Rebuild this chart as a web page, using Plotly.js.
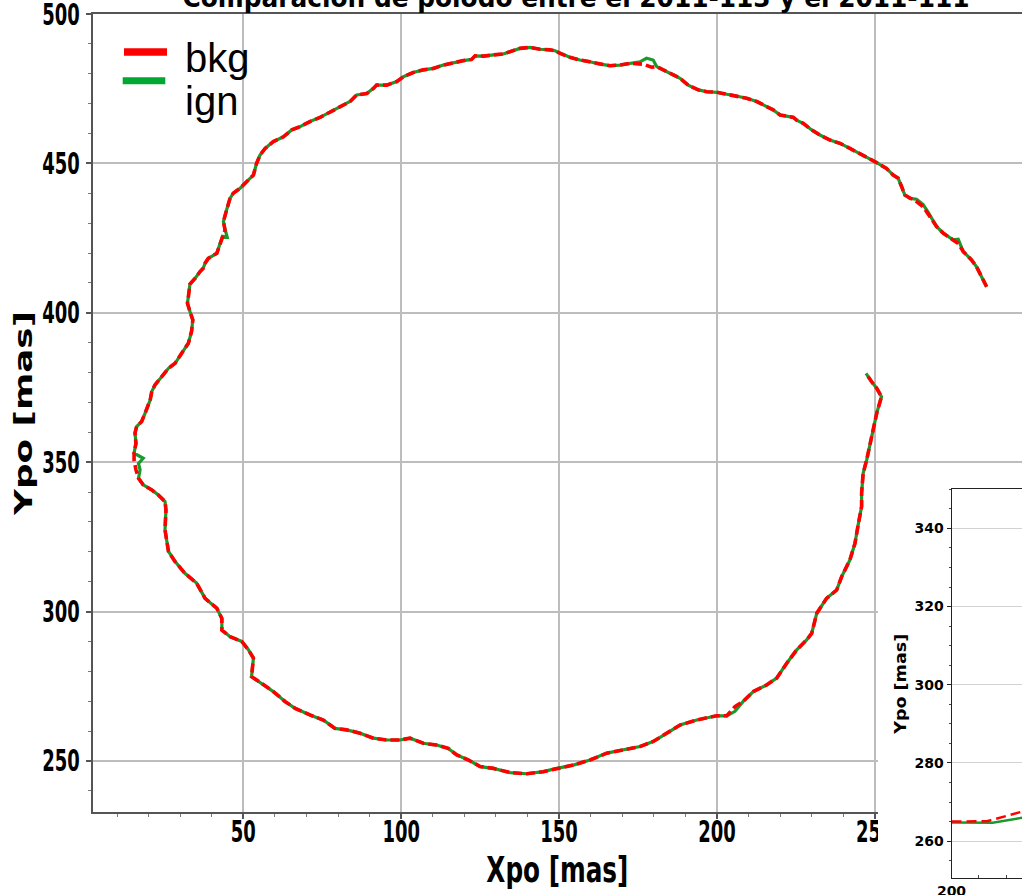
<!DOCTYPE html>
<html>
<head>
<meta charset="utf-8">
<script src="https://cdn.plot.ly/plotly-3.0.1.min.js"></script>
<style>html,body{margin:0;padding:0;background:#fff;}#chart{width:1022px;height:895px;}</style>
</head>
<body>
<div id="chart"></div>
<script>
// ---- data (polar motion track, mas) ----
const bkgX = [285.4,282.2,280.6,278.0,276.4,274.8,271.7,269.6,266.9,265.3,263.2,261.1,259.5,258.5,257.4,255.8,253.7,250.0,245.3,242.1,239.0,235.8,232.6,230.0,227.3,225.2,224.2,222.1,220.0,217.8,214.7,212.6,209.4,207.3,204.6,201.5,199.9,196.7,194.1,190.9,188.3,186.2,183.0,180.9,179.3,176.7,172.4,169.3,166.1,163.0,159.8,156.6,153.4,150.3,148.7,147.1,144.0,140.8,137.6,134.5,132.3,129.2,126.0,123.4,122.3,119.7,116.5,113.3,110.2,107.0,103.8,100.7,98.6,95.4,92.2,91.2,89.1,85.9,83.8,81.7,77.5,74.3,71.1,68.0,65.3,62.7,59.5,56.9,55.3,54.2,53.2,51.1,49.0,46.8,45.8,44.7,43.7,44.2,43.2,42.6,41.6,38.9,37.9,37.3,36.3,34.7,33.1,32.6,32.3,33.1,34.0,33.6,32.6,31.5,30.0,28.4,26.3,24.1,22.0,21.0,20.5,18.9,17.8,16.2,15.7,16.0,15.4,15.4,16.0,16.8,18.3,21.0,23.1,25.2,25.5,25.2,26.3,28.4,31.5,35.2,37.9,41.6,43.2,43.2,45.8,49.5,51.6,53.2,52.6,55.8,59.5,63.2,66.4,71.1,75.3,79.0,82.7,86.9,91.2,95.4,99.6,102.8,107.0,111.2,114.9,117.6,121.3,125.0,129.2,134.5,139.7,145.0,149.2,154.5,159.8,165.1,170.3,175.6,179.8,184.1,188.3,193.6,199.9,203.1,205.7,208.3,211.5,215.7,218.9,222.1,225.2,228.4,230.0,231.6,234.7,237.9,239.5,242.1,243.7,244.8,245.8,245.8,246.3,247.4,248.5,249.5,250.6,252.1,250.6,249.0,247.2];
const bkgY = [408.7,415.4,417.7,420.5,423.2,424.4,426.6,428.8,432.7,435.5,437.2,438.3,439.4,442.2,445.0,446.1,448.3,450.6,453.4,455.0,456.7,457.8,459.5,461.2,463.4,464.5,465.4,465.9,466.2,467.9,469.5,470.7,471.8,472.3,472.9,473.4,473.8,474.0,474.6,476.2,478.5,479.6,481.3,482.4,482.2,483.2,483.5,482.9,482.7,483.2,484.0,484.6,485.5,486.8,487.7,488.0,488.2,488.8,488.5,487.4,486.6,486.3,485.9,486.0,484.8,484.4,483.7,482.9,481.8,481.3,480.4,479.0,477.4,476.2,476.2,475.1,473.4,472.9,470.7,469.5,467.3,465.4,464.0,462.3,461.2,458.9,457.3,455.0,452.8,450.0,446.1,443.9,441.7,440.0,438.3,434.4,430.5,427.7,424.9,422.7,419.9,418.2,416.6,414.9,413.8,411.5,409.6,405.4,403.2,400.4,397.6,393.7,389.8,388.1,385.9,383.1,381.4,378.6,375.8,373.6,370.8,366.4,363.6,361.9,359.7,356.3,353.0,350.7,347.4,344.6,342.4,340.7,339.0,336.8,334.0,327.3,320.1,316.7,312.8,309.5,304.4,301.1,297.7,293.8,291.6,290.0,287.2,284.4,278.2,276.0,273.2,269.9,267.6,265.4,263.7,260.9,260.4,259.3,257.6,257.0,257.0,257.6,255.9,255.3,254.2,252.0,250.3,248.1,247.5,246.1,245.7,246.4,247.5,248.6,250.3,252.6,253.7,254.8,256.5,259.3,262.0,263.7,265.1,265.1,268.2,269.9,273.2,275.4,277.7,282.7,287.1,290.5,292.7,299.4,304.4,307.2,311.7,317.3,322.8,329.5,335.1,339.6,346.3,350.7,356.3,361.9,366.4,371.9,374.7,376.9,379.7];
const ignX = [285.4,282.2,280.6,278.0,276.4,274.8,271.7,269.6,266.9,265.3,263.2,261.1,259.5,258.5,257.4,255.8,253.7,250.0,245.3,242.1,239.0,235.8,232.6,230.0,227.3,225.2,224.2,222.1,220.0,217.8,214.7,212.6,209.4,207.3,204.6,201.5,199.9,196.7,194.1,190.9,188.3,186.2,183.0,180.9,179.8,177.7,175.6,172.4,169.3,166.1,163.0,159.8,156.6,153.4,150.3,148.7,147.1,144.0,140.8,137.6,134.5,132.3,129.2,126.0,123.4,122.3,119.7,116.5,113.3,110.2,107.0,103.8,100.7,98.6,95.4,92.2,91.2,89.1,85.9,83.8,81.7,77.5,74.3,71.1,68.0,65.3,62.7,59.5,56.9,55.3,54.2,53.2,51.1,49.0,46.8,45.8,44.7,43.7,44.2,44.9,43.4,42.6,41.6,38.9,37.9,37.3,36.3,34.7,33.1,32.6,32.3,33.1,34.0,33.6,32.6,31.5,30.0,28.4,26.3,24.1,22.0,21.0,20.5,18.9,17.8,16.2,15.7,16.0,15.4,18.3,16.8,17.3,16.8,18.3,21.0,23.1,25.2,25.5,25.2,26.3,28.4,31.5,35.2,37.9,41.6,43.2,43.2,45.8,49.5,51.6,53.2,52.6,55.8,59.5,63.2,66.4,71.1,75.3,79.0,82.7,86.9,91.2,95.4,99.6,102.8,107.0,111.2,114.9,117.6,121.3,125.0,129.2,134.5,139.7,145.0,149.2,154.5,159.8,165.1,170.3,175.6,179.8,184.1,188.3,193.6,199.9,203.1,205.7,208.3,211.5,215.7,218.9,222.1,225.2,228.4,230.0,231.6,234.7,237.9,239.5,242.1,243.7,244.8,245.8,245.8,246.3,247.4,248.5,249.5,250.6,252.1,250.6,249.0,247.2];
const ignY = [408.7,415.4,417.7,420.5,424.6,424.4,426.6,428.8,433.6,436.2,438.0,438.3,439.4,442.2,445.0,446.1,448.3,450.6,453.4,455.0,456.7,457.8,459.5,461.2,463.4,464.5,465.4,465.9,466.2,467.9,469.5,470.7,471.8,472.3,472.9,473.4,473.8,474.0,474.6,476.2,478.5,479.6,481.3,482.4,484.6,485.2,484.0,483.5,482.9,482.7,483.2,484.0,484.6,485.5,486.8,487.7,488.0,488.2,488.8,488.5,487.4,486.6,486.3,485.9,486.0,484.8,484.4,483.7,482.9,481.8,481.3,480.4,479.0,477.4,476.2,476.2,475.1,473.4,472.9,470.7,469.5,467.3,465.4,464.0,462.3,461.2,458.9,457.3,455.0,452.8,450.0,446.1,443.9,441.7,440.0,438.3,434.4,430.5,428.0,425.3,425.6,422.7,419.9,418.2,416.6,414.9,413.8,411.5,409.6,405.4,403.2,400.4,397.6,393.7,389.8,388.1,385.9,383.1,381.4,378.6,375.8,373.6,370.8,366.4,363.6,361.9,359.7,356.3,353.0,351.3,349.6,347.4,344.6,342.4,340.7,339.0,336.8,334.0,327.3,320.1,316.7,312.8,309.5,304.4,301.1,297.7,293.8,291.6,290.0,287.2,284.4,278.2,276.0,273.2,269.9,267.6,265.4,263.7,260.9,260.4,259.3,257.6,257.0,257.0,257.6,255.9,255.3,254.2,252.0,250.3,248.1,247.5,246.1,245.7,246.4,247.5,248.6,250.3,252.6,253.7,254.8,256.5,259.3,262.0,263.7,265.1,265.1,266.6,269.9,273.2,275.4,277.7,282.7,287.1,290.5,292.7,299.4,304.4,307.2,311.7,317.3,322.8,329.5,335.1,339.6,346.3,350.7,356.3,361.9,366.4,371.9,374.7,376.9,379.7];
// inset (zoom near Xpo = 200)
const insetBkgX = [200.0, 201.3, 202.6];
const insetBkgY = [265.0, 265.1, 267.6];
const insetIgnX = [200.0, 201.5, 202.6];
const insetIgnY = [264.8, 264.7, 266.0];
const seriesNames = ['bkg', 'ign'];
const titleText = 'Comparación de polodo entre el 2011-113 y el 2011-111';

const W = 1022, H = 895;
const px = v => v / W;          // page px -> paper x
const py = v => 1 - v / H;      // page px (from top) -> paper y
const dv = "'DejaVu Sans', sans-serif";
const RED = '#ff0000', GREEN = '#1a9a2c';

const traces = [
  {x: ignX, y: ignY, name: seriesNames[1], mode: 'lines', line: {color: GREEN, width: 3.2}, xaxis: 'x', yaxis: 'y'},
  {x: bkgX, y: bkgY, name: seriesNames[0], mode: 'lines', line: {color: RED, width: 3.6, dash: '9px,4px'}, xaxis: 'x', yaxis: 'y'},
  {x: [null], y: [null], mode: 'markers', hoverinfo: 'skip', xaxis: 'x2', yaxis: 'y2'},
  {x: insetIgnX, y: insetIgnY, name: seriesNames[1], mode: 'lines', line: {color: GREEN, width: 2.5}, xaxis: 'x3', yaxis: 'y3'},
  {x: insetBkgX, y: insetBkgY, name: seriesNames[0], mode: 'lines', line: {color: RED, width: 2.5, dash: '10px,5px'}, xaxis: 'x3', yaxis: 'y3'}
];

const layout = {
  width: W, height: H,
  margin: {l: 0, r: 0, t: 0, b: 0, pad: 0},
  paper_bgcolor: '#fff', plot_bgcolor: '#fff',
  showlegend: false,
  title: {text: titleText, font: {family: dv, size: 26, weight: 'bold', color: '#000'},
          x: px(576), xanchor: 'center', xref: 'paper', yref: 'paper', y: py(7), yanchor: 'bottom'},
  xaxis: {
    domain: [px(92.7), 1], range: [2.3, 296.6], anchor: 'y',
    tick0: 0, dtick: 50, ticks: 'outside', ticklen: 5, tickwidth: 1.5, tickcolor: '#555',
    minor: {dtick: 10, tick0: 0, ticks: 'outside', ticklen: 3, tickwidth: 1, tickcolor: '#777', showgrid: false},
    showgrid: true, gridcolor: '#bdbdbd', gridwidth: 1.5, zeroline: false,
    showline: true, linecolor: '#555', linewidth: 2, mirror: true,
    tickfont: {family: dv, size: 30, weight: 'bold', color: '#000'},
    ticklabeloverflow: 'allow', ticklabelstandoff: -13,
    title: {text: 'Xpo [mas]', font: {family: dv, size: 36, weight: 'bold', color: '#000'}, standoff: 8}
  },
  yaxis: {
    domain: [1 - 812 / H, 1 - 14 / H], range: [232.9, 500], anchor: 'x',
    tick0: 0, dtick: 50, ticks: 'outside', ticklen: 5, tickwidth: 1.5, tickcolor: '#555',
    minor: {dtick: 10, tick0: 0, ticks: 'outside', ticklen: 3, tickwidth: 1, tickcolor: '#777', showgrid: false},
    showgrid: true, gridcolor: '#bdbdbd', gridwidth: 1.5, zeroline: false,
    showline: true, linecolor: '#555', linewidth: 2, mirror: false,
    tickfont: {family: dv, size: 30, weight: 'bold', color: '#000'},
    ticklabeloverflow: 'allow',
    title: {text: 'Ypo [mas]', font: {family: dv, size: 25, weight: 'bold', color: '#000'}, standoff: 0}
  },
  xaxis2: {domain: [px(878), 1], range: [0, 1], anchor: 'y2', visible: false},
  yaxis2: {domain: [0, 1 - 478 / H], range: [0, 1], anchor: 'x2', visible: false},
  xaxis3: {
    domain: [px(951.5), 1], range: [200, 202.57], anchor: 'y3',
    tick0: 0, dtick: 5, ticks: 'inside', ticklen: 4, tickcolor: '#222',
    minor: {dtick: 1, ticks: 'inside', ticklen: 3, tickcolor: '#444', showgrid: false},
    showgrid: false, zeroline: false,
    showline: true, linecolor: '#222', linewidth: 1, mirror: true,
    tickfont: {family: dv, size: 14, weight: 'bold', color: '#000'},
    ticklabeloverflow: 'allow'
  },
  yaxis3: {
    domain: [1 - 878.3 / H, 1 - 489.3 / H], range: [250.5, 350], anchor: 'x3',
    tick0: 0, dtick: 20, ticks: 'outside', ticklen: 4, tickcolor: '#222',
    minor: {dtick: 5, tick0: 0, ticks: 'outside', ticklen: 2, tickcolor: '#444', showgrid: false},
    showgrid: true, gridcolor: '#d2d2d2', gridwidth: 1, zeroline: false,
    showline: true, linecolor: '#222', linewidth: 1, mirror: false,
    tickfont: {family: dv, size: 14, weight: 'bold', color: '#000'},
    ticklabeloverflow: 'allow',
    title: {text: 'Ypo [mas]', font: {family: dv, size: 16, weight: 'bold', color: '#000'}, standoff: 3}
  },
  shapes: [
    {type: 'rect', xref: 'paper', yref: 'paper', x0: px(124), x1: px(167), y0: py(55.7), y1: py(48.3), fillcolor: RED, line: {width: 0}},
    {type: 'rect', xref: 'paper', yref: 'paper', x0: px(122.7), x1: px(165.3), y0: py(84.3), y1: py(77.3), fillcolor: '#00a833', line: {width: 0}}
  ],
  annotations: [
    {text: seriesNames[0], xref: 'paper', yref: 'paper', x: px(182.5), y: py(57.8), xanchor: 'left', yanchor: 'middle', showarrow: false,
     font: {family: "'Liberation Sans', Arial, sans-serif", size: 40, color: '#000'}},
    {text: seriesNames[1], xref: 'paper', yref: 'paper', x: px(182.5), y: py(101.1), xanchor: 'left', yanchor: 'middle', showarrow: false,
     font: {family: "'Liberation Sans', Arial, sans-serif", size: 40, color: '#000'}}
  ]
};

// Text in the reference is horizontally compressed; fit each text to the width.
function fitText(gd, selector, lengthFn) {
  gd.querySelectorAll(selector).forEach(t => {
    const w = t.getComputedTextLength();
    if (!w) return;
    t.setAttribute('textLength', lengthFn(w));
    t.setAttribute('lengthAdjust', 'spacingAndGlyphs');
  });
}

Plotly.newPlot('chart', traces, layout, {displayModeBar: false, responsive: false}).then(gd => {
  fitText(gd, '.subplot.xy .xaxislayer-above .xtick text', w => w * 0.6);
  fitText(gd, '.subplot.xy .yaxislayer-above .ytick text', w => w * 0.6);
  fitText(gd, '.g-xtitle text', () => 142);
  fitText(gd, '.g-ytitle text', () => 204);
  fitText(gd, '.g-y3title text', () => 100);
  fitText(gd, '.g-gtitle text', () => 787);
  // nudge the main y title next to its (compressed) tick labels, as in the reference
  gd.querySelectorAll('.g-ytitle text').forEach(t => {
    t.setAttribute('transform', 'translate(9,0) ' + (t.getAttribute('transform') || ''));
  });
});
</script>
</body>
</html>
